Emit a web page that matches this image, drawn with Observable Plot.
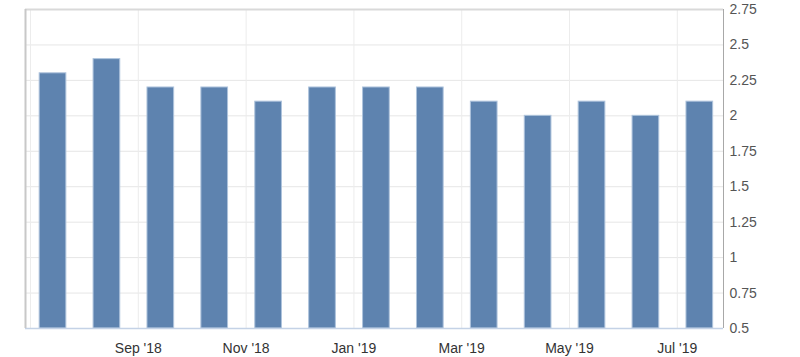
<!DOCTYPE html>
<html>
<head>
<meta charset="utf-8">
<script src="https://cdn.jsdelivr.net/npm/d3@7"></script>
<script src="https://cdn.jsdelivr.net/npm/@observablehq/plot@0.6"></script>
<style>
  html, body { margin: 0; padding: 0; background: #fff; }
  #chart svg { display: block; }
</style>
</head>
<body>
<div id="chart"></div>
<script>
const months = ["Jul '18","Aug '18","Sep '18","Oct '18","Nov '18","Dec '18","Jan '19","Feb '19","Mar '19","Apr '19","May '19","Jun '19","Jul '19"];
const values = [2.3, 2.4, 2.2, 2.2, 2.1, 2.2, 2.2, 2.2, 2.1, 2.0, 2.1, 2.0, 2.1];
const yTicks = [0.5, 0.75, 1, 1.25, 1.5, 1.75, 2, 2.25, 2.5, 2.75];
const yTickLabels = ["0.5","0.75","1","1.25","1.5","1.75","2","2.25","2.5","2.75"];
const xTickMonths = [2, 4, 6, 8, 10, 12];
const xGridMonths = [0, 2, 4, 6, 8, 10, 12];

const data = months.map((m, i) => ({i, month: m, value: values[i]}));
const xDomain = [-0.093, 12.857];
const yDomain = [0.5, 2.75];

const chart = Plot.plot({
  width: 800,
  height: 357,
  marginLeft: 25,
  marginRight: 77,
  marginTop: 9,
  marginBottom: 29,
  style: {fontFamily: "Arial, 'Liberation Sans', sans-serif", background: "#fff"},
  x: {type: "linear", domain: xDomain},
  y: {domain: yDomain},
  marks: [
    Plot.gridY(yTicks, {stroke: "#e6e6e6", strokeOpacity: 1}),
    Plot.gridX(xGridMonths, {stroke: "#ececec", strokeOpacity: 1}),
    Plot.rectY(data, {
      x1: d => d.i + 0.17,
      x2: d => d.i + 0.665,
      y1: yDomain[0],
      y2: "value",
      fill: "#5e83af",
      stroke: "#aec3dc",
      strokeWidth: 1
    }),
    Plot.ruleY([yDomain[0]], {stroke: "#c4d2e6", strokeWidth: 1.5}),
    Plot.ruleY([yDomain[1]], {stroke: "#d9d9d9", strokeWidth: 2}),
    Plot.ruleX([xDomain[0]], {stroke: "#c8c8c8", strokeWidth: 2}),
    Plot.ruleX([xDomain[1]], {stroke: "#a8a8a8", strokeWidth: 1}),
    Plot.axisY(yTicks, {
      anchor: "right",
      tickSize: 0,
      tickPadding: 6,
      textAnchor: "start",
      fontSize: 14,
      fill: "#555",
      tickFormat: (d) => yTickLabels[yTicks.indexOf(d)],
      label: null
    }),
    Plot.axisX(xTickMonths, {
      anchor: "bottom",
      tickSize: 0,
      tickPadding: 15,
      fontSize: 14,
      fill: "#333",
      tickFormat: (i) => months[i],
      label: null
    })
  ]
});
document.getElementById("chart").appendChild(chart);
</script>
</body>
</html>
